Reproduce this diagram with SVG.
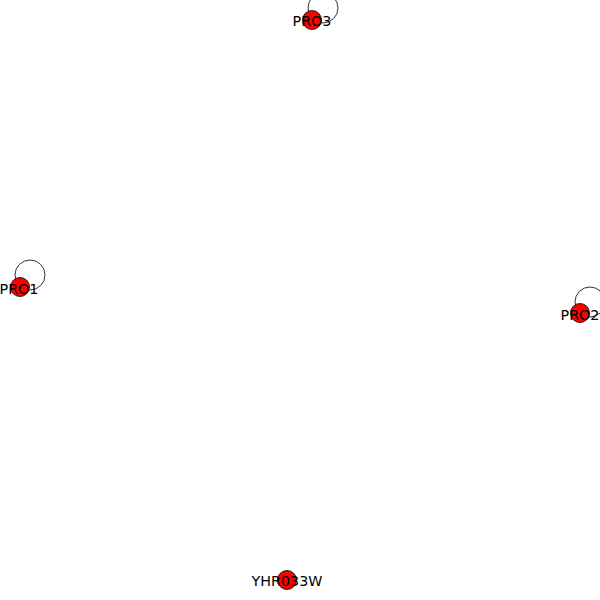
<svg xmlns="http://www.w3.org/2000/svg" width="600" height="600" viewBox="0 0 600 600">
<style>
.loop{fill:none;stroke:#333;stroke-width:1}
.node{fill:#ff0000;stroke:#000;stroke-width:0.8}
.lbl{font-family:"DejaVu Sans",sans-serif;font-size:14.3px;fill:#000;text-anchor:middle}
</style>
<rect width="600" height="600" fill="#fff"/>
<g id="edges">
<circle class="loop" cx="323" cy="8" r="15"/>
<circle class="loop" cx="30" cy="275" r="15"/>
<circle class="loop" cx="590" cy="302" r="15"/>
</g>
<g id="PRO3"><circle class="node" cx="312" cy="20" r="9.5"/><text class="lbl" x="312" y="26">PRO3</text></g>
<g id="PRO1"><circle class="node" cx="20" cy="287" r="9.5"/><text class="lbl" x="19" y="294">PRO1</text></g>
<g id="PRO2"><circle class="node" cx="580" cy="313" r="9.5"/><text class="lbl" x="580" y="320">PRO2</text></g>
<g id="YHR033W"><circle class="node" cx="287" cy="580" r="9.5"/><text class="lbl" x="287" y="586">YHR033W</text></g>
</svg>
